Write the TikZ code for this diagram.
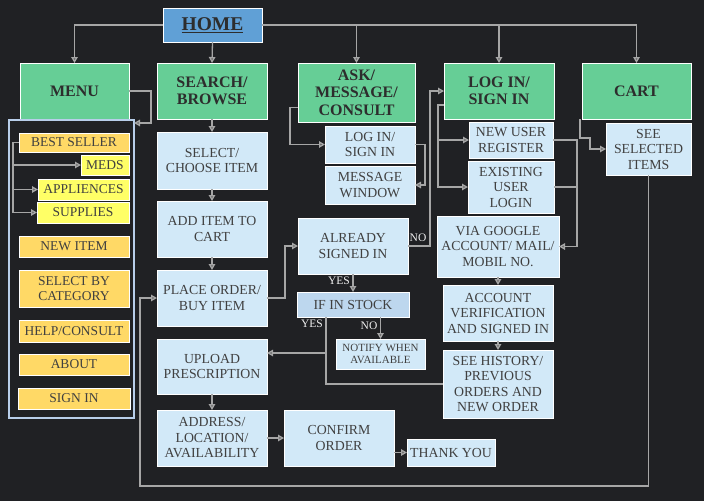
\documentclass[tikz,border=0pt]{standalone}
\usepackage{fontspec}
\setmainfont{Liberation Serif}
\usetikzlibrary{arrows.meta,calc}
\definecolor{bg}{RGB}{32,33,36}
\definecolor{homeblue}{RGB}{96,160,214}
\definecolor{hdrgreen}{RGB}{102,206,150}
\definecolor{lightb}{RGB}{210,233,248}
\definecolor{stockb}{RGB}{189,215,238}
\definecolor{menuor}{RGB}{255,217,102}
\definecolor{menuye}{RGB}{255,255,102}
\definecolor{linegray}{RGB}{166,166,166}
\definecolor{arrowfill}{RGB}{85,85,85}
\definecolor{bodytext}{RGB}{64,64,64}
\definecolor{hdrtext}{RGB}{45,45,45}
\definecolor{panelb}{RGB}{184,206,234}
\newcommand\pbox[7]{\node[#6,minimum width={(#4)-(#2)},minimum height={(#5)-(#3)}] (#1) at ({((#2)+(#4))/2},{((#3)+(#5))/2}) {#7};}
\begin{document}
\begin{tikzpicture}[x=1pt,y=-1pt,
  base/.style={draw=white,line width=0.8pt,inner sep=0pt,outer sep=0pt,align=center},
  hdr/.style={base,fill=hdrgreen,text=hdrtext,font=\bfseries\fontsize{16}{17.5}\selectfont},
  lbx/.style={base,fill=lightb,text=bodytext,font=\fontsize{13.8}{15.5}\selectfont},
  mi/.style={base,fill=menuor,text=bodytext,font=\fontsize{13.5}{15.5}\selectfont},
  my/.style={mi,fill=menuye},
  lnk/.style={draw=linegray,line width=1.3pt},
  arr/.style={lnk,-{Triangle[length=6pt,width=6.5pt,fill=arrowfill]}},
  yn/.style={font=\fontsize{11.5}{12}\selectfont,text=white!88!gray,inner sep=0pt}]
\useasboundingbox (0,0) rectangle (704,501);
\fill[bg] (0,0) rectangle (704,501);
% header row
\pbox{home}{163}{8}{262}{42}{base,fill=homeblue,text=hdrtext,font=\bfseries\fontsize{19.5}{21}\selectfont}{\underline{HOME}}
\pbox{menu}{20}{63}{129}{119}{hdr}{MENU}
\pbox{search}{157}{63}{267}{119}{hdr}{SEARCH/\\BROWSE}
\pbox{ask}{298}{63}{415}{122}{hdr}{ASK/\\MESSAGE/\\CONSULT}
\pbox{login}{444}{63}{554}{119}{hdr}{LOG IN/\\SIGN IN}
\pbox{cart}{582}{63}{691}{119}{hdr}{CART}
% menu panel
\pbox{panel}{9}{120}{134}{418}{draw=panelb,line width=2.5pt,inner sep=0pt,outer sep=0pt}{}
\pbox{best}{19}{133}{129}{152}{mi}{BEST SELLER}
\pbox{meds}{81}{155}{129}{175}{my}{MEDS}
\pbox{appl}{38}{179}{129}{200}{my}{APPLIENCES}
\pbox{supp}{37}{202}{129}{223}{my}{SUPPLIES}
\pbox{newitem}{19}{236}{129}{257}{mi}{NEW ITEM}
\pbox{cat}{19}{270}{129}{307}{mi}{SELECT BY\\CATEGORY}
\pbox{help}{19}{320}{129}{342}{mi}{HELP/CONSULT}
\pbox{about}{19}{354}{129}{375}{mi}{ABOUT}
\pbox{signin}{18}{388}{130}{409}{mi}{SIGN IN}
% search column
\pbox{select}{157}{132}{267}{189}{lbx}{SELECT/\\CHOOSE ITEM}
\pbox{add}{157}{201}{267}{257}{lbx}{ADD ITEM TO\\CART}
\pbox{place}{157}{270}{267}{326}{lbx}{PLACE ORDER/\\BUY ITEM}
\pbox{upload}{157}{339}{267}{394}{lbx}{UPLOAD\\PRESCRIPTION}
\pbox{address}{157}{410}{267}{466}{lbx}{ADDRESS/\\LOCATION/\\AVAILABILITY}
\pbox{confirm}{284}{410}{394}{466}{lbx}{CONFIRM\\ORDER}
\pbox{thank}{407}{439}{495}{466}{lbx}{THANK YOU}
% ask column
\pbox{askin}{325}{126}{415}{163}{lbx}{LOG IN/\\SIGN IN}
\pbox{msg}{325}{166}{415}{204}{lbx}{MESSAGE\\WINDOW}
\pbox{already}{298}{218}{408}{274}{lbx}{ALREADY\\SIGNED IN}
\pbox{stock}{297}{292}{409}{317}{lbx,fill=stockb}{IF IN STOCK}
\pbox{notify}{336}{339}{425}{369}{lbx,font=\fontsize{11}{12}\selectfont}{NOTIFY WHEN\\AVAILABLE}
% login column
\pbox{newuser}{469}{122}{553}{158}{lbx}{NEW USER\\REGISTER}
\pbox{existing}{468}{161}{554}{213}{lbx}{EXISTING\\USER\\LOGIN}
\pbox{google}{437}{216}{559}{277}{lbx}{VIA GOOGLE\\ACCOUNT/ MAIL/\\MOBIL NO.}
\pbox{verif}{443}{285}{553}{341}{lbx}{ACCOUNT\\VERIFICATION\\AND SIGNED IN}
\pbox{history}{443}{350}{553}{418}{lbx}{SEE HISTORY/\\PREVIOUS\\ORDERS AND\\NEW ORDER}
% cart column
\pbox{seeitems}{606}{123}{691}{175}{lbx}{SEE\\SELECTED\\ITEMS}
% connectors from home
\draw[arr] (home.west) -| (menu.north);
\draw[arr] (home.south) -- (search.north);
\draw[arr] (home.east) -| (cart.north);
\draw[arr] (ask.north |- home.east) -- (ask.north);
\draw[arr] (login.north |- home.east) -- (login.north);
% menu
\draw[arr] (menu.east) -- ++(22,0) |- ($(panel.north east)+(0,3)$);
\draw[arr] (best.west) -- ++(-6,0) |- (meds.west);
\draw[arr] (best.west) ++(-6,0) |- (appl.west);
\draw[arr] (best.west) ++(-6,0) |- (supp.west);
% search column
\draw[arr] (search.south) -- (select.north);
\draw[arr] (select.south) -- (add.north);
\draw[arr] (add.south) -- (place.north);
\draw[arr] (upload.south) -- (address.north);
\draw[arr] (address.east) -- (confirm.west);
\draw[arr] (confirm.east |- thank.west) -- (thank.west);
% ask column
\draw[arr] ($(ask.west)+(0,15)$) -- ++(-8,0) |- (askin.west);
\draw[arr] (askin.east) -- ++(10,0) |- (msg.east);
\draw[arr] (place.east) -- ++(18,0) |- (already.west);
\draw[arr] (already.east) -- ++(22,0) |- (login.west);
\node[yn] (no1) at (418,238) {NO};
\draw[arr] (already.south) -- (stock.north);
\node[yn] (yes1) at (339,281) {YES};
\draw[arr] (stock.south -| notify.north) -- (notify.north);
\node[yn] (no2) at (369,326) {NO};
\coordinate (yj) at (326,353);
\draw[arr] (stock.south -| yj) -- (yj) -- (yj -| upload.east);
\draw[lnk] (history.west) -| (yj);
\node[yn] (yes2) at (312,324) {YES};
% login column
\draw[arr] ($(login.west)+(0,14)$) -- ++(-6,0) |- (newuser.west);
\draw[arr] ($(login.west)+(0,14)$) ++(-6,0) |- (existing.west);
\draw[arr] (newuser.east) -- ++(24,0) |- (google.east);
\draw[lnk] (existing.east) -- ++(23,0);
\draw[arr] (google.south) -- (verif.north);
\draw[arr] (verif.south) -- (history.north);
% cart
\draw[arr] ($(cart.south west)+(-2,0)$) -- ++(0,19) -- ++(10,0) |- (seeitems.west);
\coordinate (lb) at (140,486);
\draw[arr] (seeitems.south) |- (lb) |- (place.west);
\end{tikzpicture}
\end{document}
